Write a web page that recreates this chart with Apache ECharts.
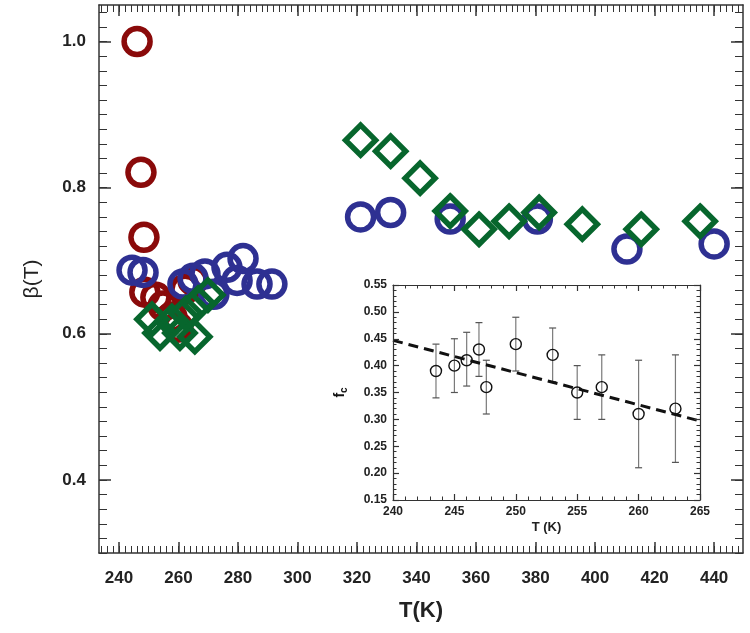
<!DOCTYPE html>
<html>
<head>
<meta charset="utf-8">
<script src="https://cdn.jsdelivr.net/npm/echarts@6/dist/echarts.min.js"></script>
<style>
html,body{margin:0;padding:0;background:#fff;}
#chart{width:750px;height:633px;}
</style>
</head>
<body>
<div id="chart"></div>
<script>
// ---------- main chart data: [T (K), beta] ----------
const redCircles = [[246.1,1.0],[247.4,0.821],[248.4,0.732],[248.7,0.657],[252.4,0.650],[254.8,0.638],[257.8,0.623],[259.8,0.609],[262.2,0.661],[264.9,0.673]];
const blueCircles = [[244.4,0.687],[248.1,0.684],[261.5,0.668],[264.9,0.676],[268.9,0.682],[271.9,0.654],[276.3,0.691],[281.7,0.703],[279.7,0.673],[286.4,0.668],[291.4,0.668],
  [321.2,0.760],[331.3,0.766],[351.3,0.757],[380.6,0.757],[410.7,0.716],[440.0,0.723]];
const greenDiamonds = [[251.1,0.620],[253.8,0.601],[257.8,0.617],[260.5,0.601],[265.5,0.596],[262.5,0.628],[266.6,0.642],[269.9,0.653],
  [321.2,0.865],[331.3,0.850],[341.2,0.813],[351.3,0.768],[361.0,0.743],[371.1,0.754],[381.2,0.766],[395.7,0.750],[415.5,0.743],[435.3,0.754]];

// ---------- inset data ----------
const insetT   = [243.5,245,246,247,247.6,250,253,255,257,260,263];
const insetFc  = [0.39,0.40,0.41,0.43,0.36,0.44,0.42,0.35,0.36,0.31,0.32];
const insetLow = [0.34,0.35,0.362,0.38,0.31,0.39,0.37,0.30,0.30,0.21,0.22];
const insetHigh= [0.44,0.45,0.462,0.48,0.41,0.49,0.47,0.40,0.42,0.41,0.42];
const fitLine  = [[240,0.447],[265,0.297]];

// ---------- axis ranges / tick labels ----------
const mainXMin = 233.3, mainXMax = 449.7;
const mainYMin = 0.30, mainYMax = 1.05;
const mainXLabels = [240,260,280,300,320,340,360,380,400,420,440];
const mainYLabels = [0.4,0.6,0.8,1.0];
const insetXMin = 240, insetXMax = 265;
const insetYMin = 0.15, insetYMax = 0.55;
const insetXLabels = [240,245,250,255,260,265];
const insetYLabels = [0.15,0.20,0.25,0.30,0.35,0.40,0.45,0.50,0.55];

function range(a, b, step) {
  const out = [];
  for (let v = a; v <= b + step * 1e-6; v += step) out.push(Math.round(v * 1e6) / 1e6);
  return out;
}
const mainXMinor = range(234, 448, 2);
const mainYMinor = range(0.30, 1.04, 0.02);
const insetXMinor = range(240, 265, 1);
const insetYMinor = range(0.15, 0.55, 0.01);

const FONT = "'Liberation Sans', Arial, sans-serif";
const AX = '#333';

function axisSet(kind, grid, min, max, majors, minors, opts) {
  const posA = kind === 'x' ? 'bottom' : 'left';
  const posB = kind === 'x' ? 'top' : 'right';
  const base = {type:'value', gridIndex:grid, min:min, max:max, splitLine:{show:false}, scale:true, z:opts.z};
  const list = [];
  list.push(Object.assign({}, base, {
    position: posA,
    axisLine:{show:true, onZero:false, lineStyle:{color:AX, width:opts.lw}},
    axisTick:{show:true, inside:true, length:opts.major, customValues:majors, lineStyle:{color:AX, width:opts.lw}},
    axisLabel:{show:true, customValues:majors, formatter:opts.fmt, margin:opts.margin, color:'#222', fontFamily:FONT, fontWeight:'bold', fontSize:opts.fs},
  }, opts.name || {}));
  list.push(Object.assign({}, base, {
    position: posA,
    axisLine:{show:false},
    axisTick:{show:true, inside:true, length:opts.minor, customValues:minors, lineStyle:{color:AX, width:1}},
    axisLabel:{show:false}
  }));
  list.push(Object.assign({}, base, {
    position: posB,
    axisLine:{show:true, onZero:false, lineStyle:{color:AX, width:opts.lw}},
    axisTick:{show:true, inside:true, length:opts.major, customValues:majors, lineStyle:{color:AX, width:opts.lw}},
    axisLabel:{show:false}
  }));
  list.push(Object.assign({}, base, {
    position: posB,
    axisLine:{show:false},
    axisTick:{show:true, inside:true, length:opts.minor, customValues:minors, lineStyle:{color:AX, width:1}},
    axisLabel:{show:false}
  }));
  return list;
}

const xAxes = [].concat(
  axisSet('x', 0, mainXMin, mainXMax, mainXLabels, mainXMinor, {z:1, lw:1.5, major:11, minor:7, margin:17, fs:17, fmt:v=>String(v),
    name:{name:'T(K)', nameLocation:'middle', nameGap:47, nameTextStyle:{fontFamily:FONT, fontWeight:'bold', fontSize:22, color:'#222'}}}),
  axisSet('x', 1, insetXMin, insetXMax, insetXLabels, insetXMinor, {z:20, lw:1.2, major:6, minor:3.5, margin:6, fs:12, fmt:v=>String(v),
    name:{name:'T (K)', nameLocation:'middle', nameGap:21, nameTextStyle:{fontFamily:FONT, fontWeight:'bold', fontSize:13, color:'#222'}}})
);
const yAxes = [].concat(
  axisSet('y', 0, mainYMin, mainYMax, mainYLabels, mainYMinor, {z:1, lw:1.5, major:12, minor:8, margin:13, fs:17, fmt:v=>v.toFixed(1),
    name:{name:'β(T)', nameLocation:'middle', nameRotate:90, nameGap:56, nameTextStyle:{fontFamily:FONT, fontSize:21, color:'#222'}}}),
  axisSet('y', 1, insetYMin, insetYMax, insetYLabels, insetYMinor, {z:20, lw:1.2, major:6, minor:3.5, margin:6, fs:12, fmt:v=>v.toFixed(2),
    name:{name:'{f|f}{c|c}', nameLocation:'middle', nameRotate:90, nameGap:44,
      nameTextStyle:{fontFamily:FONT, color:'#111', rich:{f:{fontFamily:FONT, fontWeight:'bold', fontSize:14}, c:{fontFamily:FONT, fontWeight:'bold', fontSize:10, padding:[8,0,0,0]}}}}})
);

const RED = '#8a0a0a', BLUE = '#2e3092', GREEN = '#07662d';

const errData = insetT.map((t, i) => [t, insetLow[i], insetHigh[i]]);
const insetPts = insetT.map((t, i) => [t, insetFc[i]]);

const option = {
  animation: false,
  backgroundColor: '#fff',
  grid: [
    {left:99, top:5, width:644, height:548, containLabel:false},
    {left:393, top:285, width:307, height:215, containLabel:false, show:true, backgroundColor:'#fff', borderWidth:0, z:5}
  ],
  xAxis: xAxes,
  yAxis: yAxes,
  series: [
    {type:'scatter', xAxisIndex:0, yAxisIndex:0, data:redCircles, symbol:'circle', symbolSize:26,
      itemStyle:{color:'rgba(0,0,0,0)', borderColor:RED, borderWidth:5.5, opacity:1}, z:2},
    {type:'scatter', xAxisIndex:0, yAxisIndex:0, data:blueCircles, symbol:'circle', symbolSize:26,
      itemStyle:{color:'rgba(0,0,0,0)', borderColor:BLUE, borderWidth:5.5, opacity:1}, z:3},
    {type:'scatter', xAxisIndex:0, yAxisIndex:0, data:greenDiamonds, symbol:'diamond', symbolSize:30,
      itemStyle:{color:'rgba(0,0,0,0)', borderColor:GREEN, borderWidth:5.5, opacity:1}, z:4},
    {type:'custom', xAxisIndex:4, yAxisIndex:4, data:errData, z:10,
      renderItem:function(params, api){
        const x = api.value(0);
        const lo = api.coord([x, api.value(1)]);
        const hi = api.coord([x, api.value(2)]);
        const cap = 3.5;
        return {type:'group', children:[
          {type:'line', shape:{x1:lo[0], y1:lo[1], x2:hi[0], y2:hi[1]}, style:{stroke:'#7a7a7a', lineWidth:1.2}},
          {type:'line', shape:{x1:lo[0]-cap, y1:lo[1], x2:lo[0]+cap, y2:lo[1]}, style:{stroke:'#555', lineWidth:1.2}},
          {type:'line', shape:{x1:hi[0]-cap, y1:hi[1], x2:hi[0]+cap, y2:hi[1]}, style:{stroke:'#555', lineWidth:1.2}}
        ]};
      }},
    {type:'line', xAxisIndex:4, yAxisIndex:4, data:fitLine, symbol:'none', z:11,
      lineStyle:{color:'#111', width:3, type:[10,6]}},
    {type:'scatter', xAxisIndex:4, yAxisIndex:4, data:insetPts, symbol:'circle', symbolSize:11, z:12,
      itemStyle:{color:'rgba(255,255,255,0)', borderColor:'#111', borderWidth:1.4, opacity:1}}
  ]
};

const chart = echarts.init(document.getElementById('chart'), null, {renderer:'canvas'});
chart.setOption(option);
</script>
</body>
</html>
